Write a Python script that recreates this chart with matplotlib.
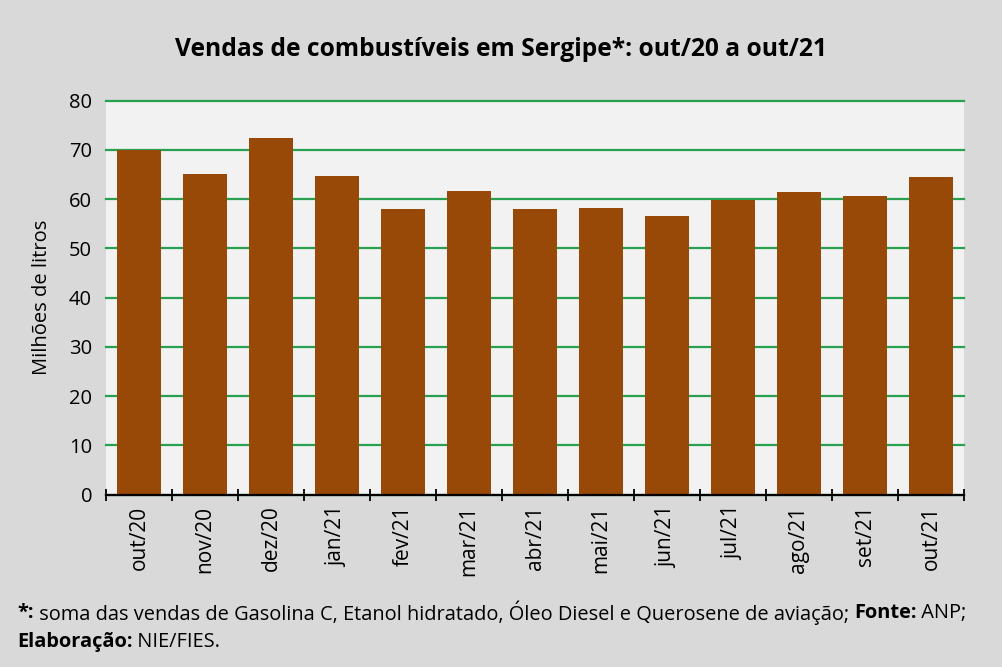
import matplotlib
matplotlib.use("Agg")
import matplotlib.pyplot as plt
import numpy as np
from matplotlib.ticker import FixedLocator

months = ["out/20", "nov/20", "dez/20", "jan/21", "fev/21", "mar/21", "abr/21",
          "mai/21", "jun/21", "jul/21", "ago/21", "set/21", "out/21"]
sales = [70.0, 65.2, 72.5, 64.8, 57.9, 61.6, 58.1, 58.3, 56.6, 59.8, 61.5, 60.7, 64.4]
yticks = [0, 10, 20, 30, 40, 50, 60, 70, 80]

title = "Vendas de combustíveis em Sergipe*: out/20 a out/21"
ylabel = "Milhões de litros"

BG = "#d9d9d9"
PLOT_BG = "#f2f2f2"
BAR = "#984807"
GRID = "#28a050"

fig = plt.figure(figsize=(10.02, 6.67), dpi=100, facecolor=BG)
ax = fig.add_axes([106/1002, 1-494.5/667, (964-106)/1002, (494.5-100.7)/667])
ax.set_facecolor(PLOT_BG)

x = np.arange(len(months))
ax.bar(x, sales, width=0.667, color=BAR, zorder=3)

ax.set_xlim(-0.5, len(months)-0.5)
ax.set_ylim(0, 80)
ax.set_yticks(yticks)
ax.yaxis.grid(True, color=GRID, linewidth=1.6, zorder=1)
ax.set_axisbelow(True)
for gl in ax.get_ygridlines():
    gl.set_clip_on(False)

for s in ["top", "right", "left"]:
    ax.spines[s].set_visible(False)
ax.spines["bottom"].set_color("black")
ax.spines["bottom"].set_linewidth(1.6)
ax.spines["bottom"].set_zorder(5)

ax.tick_params(axis="y", length=0, pad=10, labelsize=14.5)
for lab in ax.get_yticklabels():
    lab.set_family("Open Sans")

ax.set_xticks(x)
ax.set_xticklabels(months, rotation=90, fontsize=15, family="Open Sans")
ax.tick_params(axis="x", which="major", length=0, pad=8)
ax.xaxis.set_minor_locator(FixedLocator(np.arange(-0.5, len(months), 1.0)))
ax.tick_params(axis="x", which="minor", length=9, width=1.3, direction="inout", color="black")

ax.set_ylabel(ylabel, fontsize=14.5, family="Open Sans", labelpad=12)

fig.text(0.5, 1-50/667, title, ha="center", va="center", fontsize=17.7,
         fontweight="bold", family="Open Sans")

# Footer with mixed bold/regular
fam = ["Open Sans", "DejaVu Sans"]
fs = 14.4
line1 = [("*:", True), (" soma das vendas de Gasolina C, Etanol hidratado, Óleo Diesel e Querosene de aviação; ", False),
         ("Fonte:", True), (" ANP;", False)]
line2 = [("Elaboração:", True), (" NIE/FIES.", False)]

fig.canvas.draw()
renderer = fig.canvas.get_renderer()
for line, ypx in [(line1, 613), (line2, 642)]:
    xpos = 17 / 1002
    for txt, bold in line:
        t = fig.text(xpos, 1 - ypx/667, txt, ha="left", va="center", fontsize=fs,
                     fontweight="bold" if bold else "normal", family=fam)
        bb = t.get_window_extent(renderer=renderer)
        xpos += bb.width / fig.bbox.width

fig.savefig("out.png", dpi=100, facecolor=BG)
